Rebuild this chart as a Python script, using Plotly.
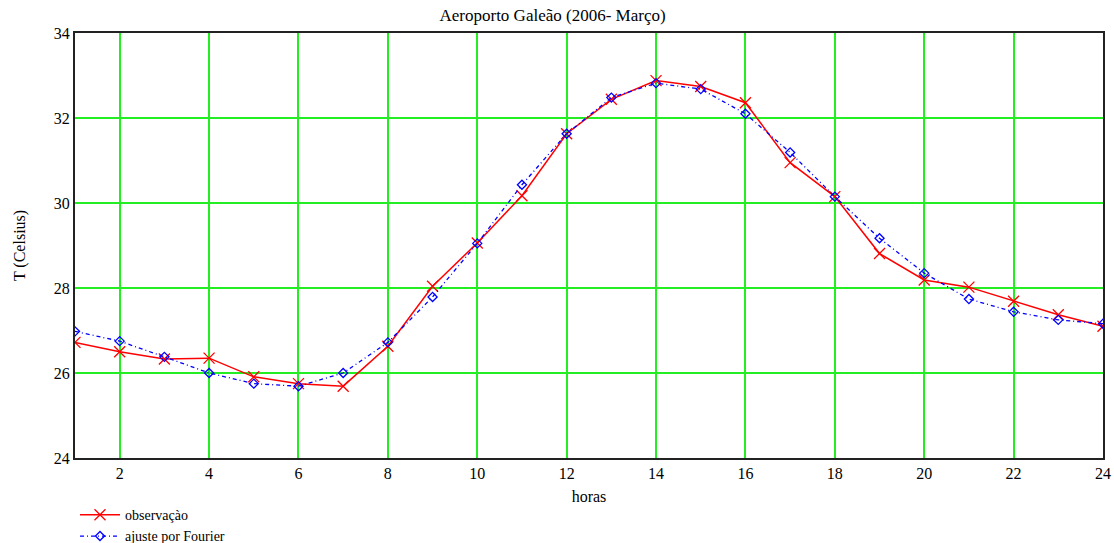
import plotly.graph_objects as go

hours = list(range(1, 25))
observacao = [26.72, 26.50, 26.33, 26.35, 25.91, 25.75, 25.69, 26.63, 28.04, 29.06, 30.17, 31.63,
              32.44, 32.88, 32.74, 32.36, 30.95, 30.15, 28.81, 28.19, 28.02, 27.69, 27.37, 27.10]
fourier = [26.98, 26.75, 26.38, 26.00, 25.75, 25.69, 26.00, 26.72, 27.79, 29.05, 30.43, 31.63,
           32.48, 32.82, 32.68, 32.10, 31.19, 30.15, 29.17, 28.35, 27.74, 27.44, 27.25, 27.16]
x_ticks = list(range(2, 25, 2))
y_ticks = list(range(24, 35, 2))

FONT = "Liberation Serif"

fig = go.Figure()
fig.add_trace(go.Scatter(
    x=hours, y=observacao, name="observaçào", mode="lines+markers",
    line=dict(color="#ff0000", width=1.5),
    marker=dict(symbol="x-thin-open", size=11, line=dict(color="#ff0000", width=1.3)),
))
fig.add_trace(go.Scatter(
    x=hours, y=fourier, name="ajuste por Fourier", mode="lines+markers",
    line=dict(color="#0000ff", width=1.3, dash="4px,3px,1px,3px"),
    marker=dict(symbol="diamond-open", size=7, color="#0000ff", line=dict(color="#0000ff", width=1.3)),
))

fig.update_layout(
    width=1114, height=543,
    margin=dict(l=75, r=11, t=33, b=85, autoexpand=False),
    paper_bgcolor="white", plot_bgcolor="white",
    font=dict(family=FONT, size=15, color="black"),
    title=dict(text="Aeroporto Galeão (2006- Março)", x=0.496, xanchor="center", y=0.984, yanchor="top",
               font=dict(family=FONT, size=17, color="black")),
    xaxis=dict(range=[1, 24], tickvals=x_ticks, showgrid=True, gridcolor="#22ee22", gridwidth=2,
               showline=True, linecolor="#222222", linewidth=2, mirror=True, zeroline=False,
               tickfont=dict(family=FONT, size=16), ticks="",
               title=dict(text="horas", font=dict(family=FONT, size=16), standoff=10)),
    yaxis=dict(range=[24, 34], tickvals=y_ticks, showgrid=True, gridcolor="#22ee22", gridwidth=2,
               showline=True, linecolor="#222222", linewidth=2, mirror=True, zeroline=False,
               tickfont=dict(family=FONT, size=16), ticks="",
               title=dict(text="T (Celsius)", font=dict(family=FONT, size=16), standoff=24)),
    legend=dict(x=0, y=-0.097, xanchor="left", yanchor="top", bgcolor="rgba(0,0,0,0)",
                font=dict(family=FONT, size=14), tracegroupgap=0, itemwidth=40),
    showlegend=True,
)

fig.write_html("out.html")
